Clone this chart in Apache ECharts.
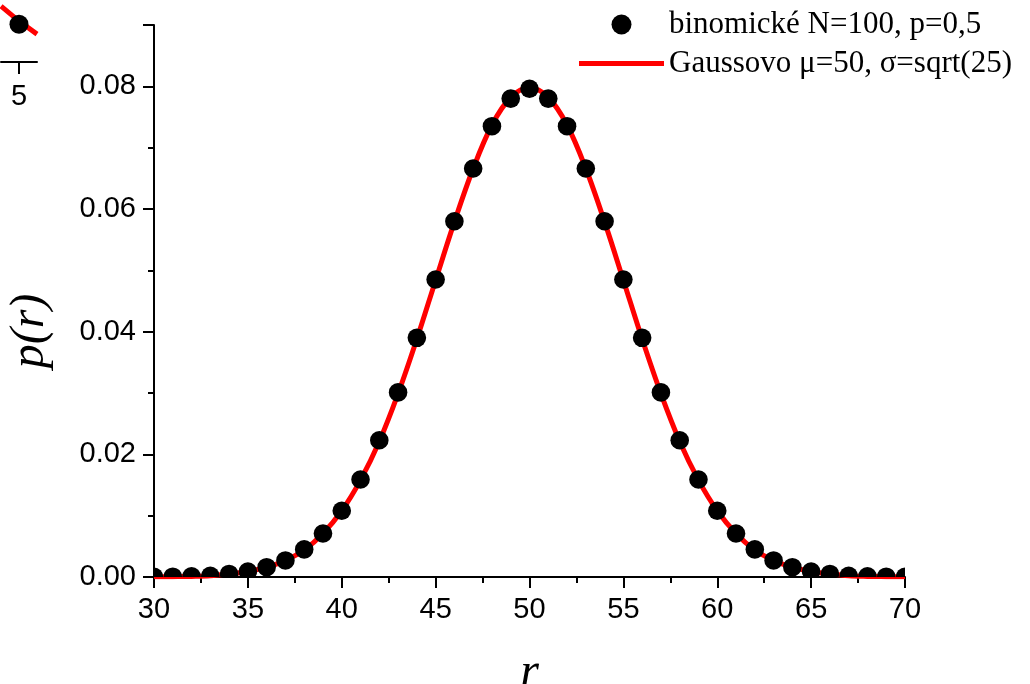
<!DOCTYPE html>
<html>
<head>
<meta charset="utf-8">
<script src="https://cdn.jsdelivr.net/npm/echarts@6/dist/echarts.min.js"></script>
<style>
  html, body { margin: 0; padding: 0; background: #fff; }
  #chart { width: 1030px; height: 684px; }
</style>
</head>
<body>
<div id="chart"></div>
<script>
// r values and binomial probabilities, N = 100, p = 0.5
const rValues = [30,31,32,33,34,35,36,37,38,39,40,41,42,43,44,45,46,47,48,49,50,
                 51,52,53,54,55,56,57,58,59,60,61,62,63,64,65,66,67,68,69,70];
const binomial = [0.00002,0.00005,0.0001,0.0002,0.0005,0.0009,0.0016,0.0027,0.0045,0.0071,0.0108,
                  0.0159,0.0223,0.0301,0.0390,0.0485,0.0580,0.0666,0.0735,0.0780,0.0796,
                  0.0780,0.0735,0.0666,0.0580,0.0485,0.0390,0.0301,0.0223,0.0159,0.0108,
                  0.0071,0.0045,0.0027,0.0016,0.0009,0.0005,0.0002,0.0001,0.00005,0.00002];
// Gaussian curve, mu = 50, sigma = 5
const gauss = [0.00003,0.00006,0.0001,0.0002,0.0005,0.0009,0.0016,0.0027,0.0044,0.0071,0.0108,
               0.0158,0.0221,0.0299,0.0388,0.0484,0.0579,0.0666,0.0737,0.0782,0.0798,
               0.0782,0.0737,0.0666,0.0579,0.0484,0.0388,0.0299,0.0221,0.0158,0.0108,
               0.0071,0.0044,0.0027,0.0016,0.0009,0.0005,0.0002,0.0001,0.00006,0.00003];

// small neighbouring panel at the top-left edge
const sideX = [4.5, 5, 5.5];
const sideLine = [0.90, 0.66, 0.45];
const sidePoint = [[5, 0.61]];
const sideTicks = [5];

const nameBinom = 'binomické N=100, p=0,5';
const nameGauss = 'Gaussovo μ=50, σ=sqrt(25)';

const sans = 'Liberation Sans, Arial, sans-serif';
const serif = 'Liberation Serif, Times New Roman, serif';

const chart = echarts.init(document.getElementById('chart'));
chart.setOption({
  animation: false,
  backgroundColor: '#fff',
  grid: [
    { left: 154, right: 125, top: 25, bottom: 107, containLabel: false, outerBoundsMode: 'none' },
    { left: 1, width: 36, top: 0, height: 62, containLabel: false, outerBoundsMode: 'none' }
  ],
  legend: {
    data: [
      { name: nameBinom, icon: 'circle' },
      { name: nameGauss, icon: 'path://M0 0H85V5H0Z' }
    ],
    orient: 'vertical',
    left: 574,
    top: 4,
    itemWidth: 85,
    itemHeight: 20,
    itemGap: 8,
    textStyle: { fontFamily: serif, fontSize: 31, color: '#000' },
    selectedMode: false
  },
  xAxis: [
    {
      type: 'value', gridIndex: 0, min: 30, max: 70, interval: 5,
      name: 'r', nameLocation: 'middle', nameGap: 72,
      nameTextStyle: { fontFamily: serif, fontStyle: 'italic', fontSize: 48, color: '#000' },
      axisLine: { lineStyle: { color: '#000', width: 2 } },
      axisTick: { inside: false, length: 11, lineStyle: { color: '#000', width: 2 } },
      minorTick: { show: true, splitNumber: 2, length: 6, lineStyle: { color: '#000', width: 2 } },
      axisLabel: { fontFamily: sans, fontSize: 29, color: '#000', margin: 18 },
      splitLine: { show: false }
    },
    {
      type: 'value', gridIndex: 1, min: 4.5, max: 5.5,
      axisLine: { lineStyle: { color: '#000', width: 2 } },
      axisTick: { inside: false, length: 12, customValues: sideTicks, lineStyle: { color: '#000', width: 2 } },
      axisLabel: { fontFamily: sans, fontSize: 29, color: '#000', margin: 20, customValues: sideTicks },
      splitLine: { show: false }
    }
  ],
  yAxis: [
    {
      type: 'value', gridIndex: 0, min: 0, max: 0.09, interval: 0.02,
      name: 'p(r)', nameLocation: 'middle', nameGap: 100, nameRotate: 90,
      nameTextStyle: {
        fontFamily: serif, fontStyle: 'italic', fontSize: 48, color: '#000',
        padding: [0, 60, 0, 0]
      },
      axisLine: { show: true, lineStyle: { color: '#000', width: 2 } },
      axisTick: { show: true, inside: false, length: 11, lineStyle: { color: '#000', width: 2 } },
      minorTick: { show: true, splitNumber: 2, length: 6, lineStyle: { color: '#000', width: 2 } },
      axisLabel: {
        fontFamily: sans, fontSize: 29, color: '#000', margin: 18, showMaxLabel: false,
        formatter: v => v.toFixed(2)
      },
      splitLine: { show: false }
    },
    { type: 'value', gridIndex: 1, min: 0, max: 1, show: false }
  ],
  series: [
    {
      name: nameGauss,
      type: 'line',
      xAxisIndex: 0, yAxisIndex: 0,
      data: rValues.map((r, i) => [r, gauss[i]]),
      smooth: 0.35,
      showSymbol: false,
      symbol: 'none',
      clip: true,
      lineStyle: { color: '#ff0000', width: 5 },
      itemStyle: { color: '#ff0000' },
      z: 2
    },
    {
      name: nameBinom,
      type: 'custom',
      xAxisIndex: 0, yAxisIndex: 0,
      clip: true,
      data: rValues.map((r, i) => [r, binomial[i]]),
      encode: { x: 0, y: 1 },
      itemStyle: { color: '#000' },
      renderItem: (params, api) => {
        const p = api.coord([api.value(0), api.value(1)]);
        return {
          type: 'circle',
          shape: { cx: p[0], cy: p[1], r: 9.3 },
          style: { fill: '#000' }
        };
      },
      z: 3
    },
    {
      name: 'side-line',
      type: 'line',
      xAxisIndex: 1, yAxisIndex: 1,
      data: sideX.map((x, i) => [x, sideLine[i]]),
      symbol: 'none',
      clip: true,
      lineStyle: { color: '#ff0000', width: 5 },
      z: 2
    },
    {
      name: 'side-point',
      type: 'scatter',
      xAxisIndex: 1, yAxisIndex: 1,
      data: sidePoint,
      symbolSize: 19,
      itemStyle: { color: '#000', opacity: 1 },
      z: 3
    }
  ]
});
</script>
</body>
</html>
